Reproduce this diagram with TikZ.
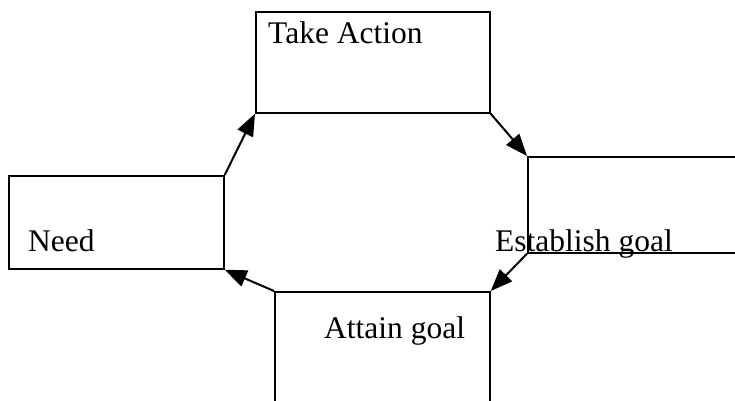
\documentclass[tikz,border=0pt]{standalone}
\usepackage{fontspec}
\setmainfont{Liberation Serif}
\usetikzlibrary{arrows.meta}

\begin{document}
\begin{tikzpicture}[
    x=1pt, y=-1pt,
    stage/.style={
        draw,
        line width=1.7pt,
        anchor=north west,
        inner sep=0pt
    },
    label/.style={anchor=base west, inner sep=0pt, font=\fontsize{31.5}{36}\selectfont},
    flow/.style={-{Triangle[length=22pt,width=17pt]}, line width=2pt}
]

\useasboundingbox (0,0) rectangle (735,400);
\clip (0,0) rectangle (735,400);

\node[stage, minimum width=234pt, minimum height=101pt] (take) at (255,11) {};
\node[stage, minimum width=234pt, minimum height=96pt] (establish) at (527,156) {};
\node[stage, minimum width=215pt, minimum height=120pt] (attain) at (274,291) {};
\node[stage, minimum width=215pt, minimum height=93pt] (need) at (8,175) {};

\node[label] (takeText) at (268,43) {Take Action};
\node[label] (establishText) at (495,251) {Establish goal};
\node[label] (attainText) at (324,338) {Attain goal};
\node[label] (needText) at (28,251) {Need};

\draw[flow] (need.north east) -- (take.south west);
\draw[flow] (take.south east) -- (establish.north west);
\draw[flow] (establish.south west) -- (attain.north east);
\draw[flow] (attain.north west) -- (need.south east);

\end{tikzpicture}
\end{document}
